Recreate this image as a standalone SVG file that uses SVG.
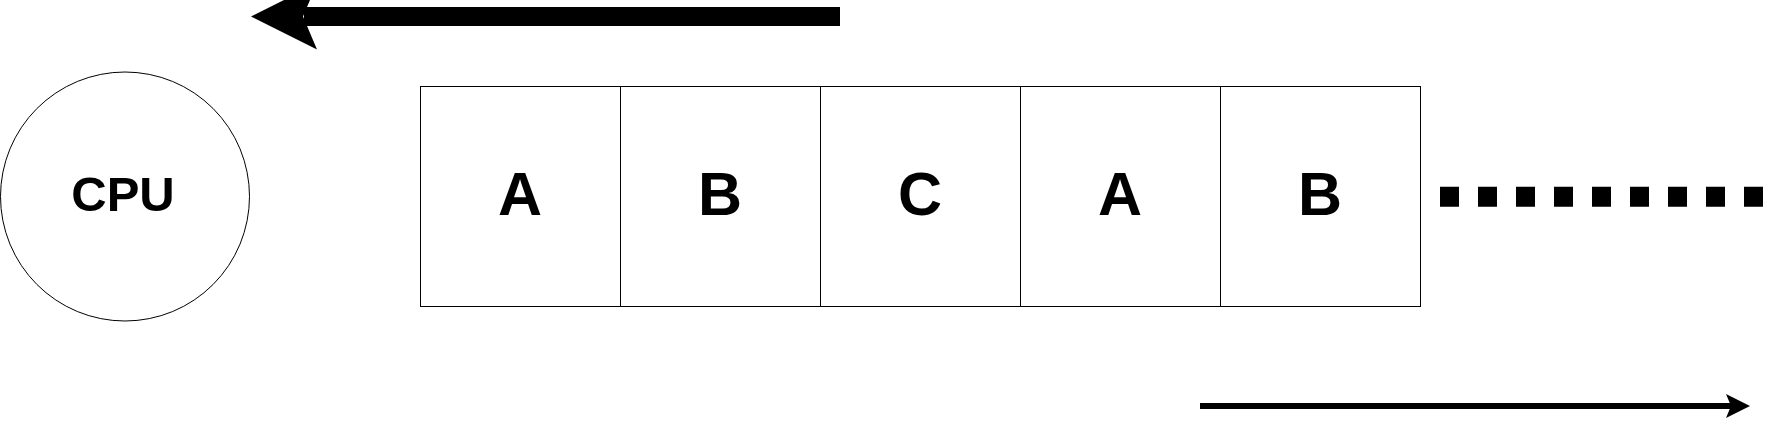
<svg xmlns="http://www.w3.org/2000/svg" width="1784" height="421" viewBox="0 0 1784 421">
<style>
.box{fill:#fff;stroke:#000;stroke-width:1}
.lbl{font-family:"Liberation Sans",Arial,sans-serif;font-weight:bold;text-anchor:middle;fill:#000}
.big{font-size:61px}
.cpu{font-size:49px}
</style>
<rect width="1784" height="421" fill="#fff"/>
<g id="cpu">
<circle cx="125" cy="196.5" r="124.5" class="box"/>
<text x="123" y="211" class="lbl cpu">CPU</text>
</g>
<g id="cell1"><rect x="420.5" y="86.5" width="200" height="220" class="box"/><text x="520" y="215" class="lbl big">A</text></g>
<g id="cell2"><rect x="620.5" y="86.5" width="200" height="220" class="box"/><text x="720" y="215" class="lbl big">B</text></g>
<g id="cell3"><rect x="820.5" y="86.5" width="200" height="220" class="box"/><text x="920" y="215" class="lbl big">C</text></g>
<g id="cell4"><rect x="1020.5" y="86.5" width="200" height="220" class="box"/><text x="1120" y="215" class="lbl big">A</text></g>
<g id="cell5"><rect x="1220.5" y="86.5" width="200" height="220" class="box"/><text x="1320" y="215" class="lbl big">B</text></g>
<g id="connectors">
<line x1="1440" y1="196.7" x2="1764" y2="196.7" stroke="#000" stroke-width="20" stroke-dasharray="19 19"/>
<line x1="840" y1="16.5" x2="304" y2="16.5" stroke="#000" stroke-width="19"/>
<polygon points="251,16.5 317,49.5 303,16.5 317,-16.5" fill="#000"/>
<line x1="1200" y1="406" x2="1735" y2="406" stroke="#000" stroke-width="6"/>
<polygon points="1750,406 1726,418 1731,406 1726,394" fill="#000"/>
</g>
</svg>
